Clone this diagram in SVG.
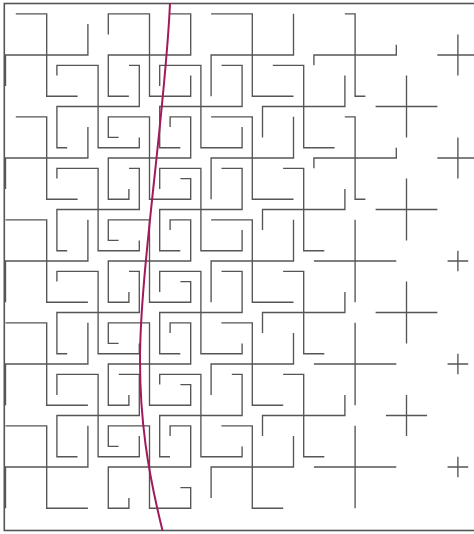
<svg xmlns="http://www.w3.org/2000/svg" width="474" height="534" viewBox="0 0 474 534">
<style>
.pw{fill:none;stroke:#555555;stroke-width:1.35}
.frame{fill:none;stroke:#555555;stroke-width:1.6}
.curve{fill:none;stroke:#a3195b;stroke-width:2}
</style>
<defs>
<path id="p1" d="M0 -10.3V10.3M-10.3 0H10.3"/>
<path id="p2" d="M0 -20.6V20.6M-20.6 0H20.6"/>
<path id="p3" d="M0 -30.9V30.9M-30.9 0H30.9"/>
<path id="p4" d="M0 -41.2V41.2M-41.2 0H41.2"/>
<path id="p5" d="M-10.3 -41.2H0V41.2H10.3M41.2 -10.3V0H-41.2V10.3"/>
<path id="p6" d="M-20.6 -41.2H0V41.2H20.6M41.2 -20.6V0H-41.2V20.6"/>
<path id="p7" d="M-30.9 -41.2H0V41.2H30.9M41.2 -30.9V0H-41.2V30.9"/>
<path id="p8" d="M-41.2 -41.2H0V41.2H41.2M41.2 -41.2V0H-41.2V41.2"/>
<path id="p9" d="M-41.2 -30.9V-41.2H0V41.2H41.2V30.9M30.9 -41.2H41.2V0H-41.2V41.2H-30.9"/>
<path id="p10" d="M-41.2 -20.6V-41.2H0V41.2H41.2V20.6M20.6 -41.2H41.2V0H-41.2V41.2H-20.6"/>
<path id="p11" d="M-30.9 -20.6H-41.2V-41.2H0V41.2H41.2V20.6H30.9M20.6 -30.9V-41.2H41.2V0H-41.2V41.2H-20.6V30.9"/>
<path id="p10b" d="M-41.2 -20.6V-41.2H0V41.2H41.2V30.9M20.6 -41.2H41.2V0H-41.2V41.2H-20.6"/>
</defs>
<g id="frame"><rect class="frame" x="4.3" y="3.5" width="500" height="527"/></g>
<g id="pinwheels" class="pw">
<use href="#p7" x="46.7" y="55"/>
<use href="#p10" x="149.5" y="55"/>
<use href="#p8" x="252.3" y="55"/>
<use href="#p5" x="355.1" y="55"/>
<use href="#p2" x="457.9" y="55"/>
<use href="#p9" x="98.1" y="106.5"/>
<use href="#p10" x="200.9" y="106.5"/>
<use href="#p7" x="303.7" y="106.5"/>
<use href="#p3" x="406.5" y="106.5"/>
<use href="#p7" x="46.7" y="158"/>
<use href="#p11" x="149.5" y="158"/>
<use href="#p8" x="252.3" y="158"/>
<use href="#p5" x="355.1" y="158"/>
<use href="#p2" x="457.9" y="158"/>
<use href="#p9" x="98.1" y="209.5"/>
<use href="#p10" x="200.9" y="209.5"/>
<use href="#p6" x="303.7" y="209.5"/>
<use href="#p3" x="406.5" y="209.5"/>
<use href="#p8" x="46.7" y="261"/>
<use href="#p11" x="149.5" y="261"/>
<use href="#p8" x="252.3" y="261"/>
<use href="#p4" x="355.1" y="261"/>
<use href="#p1" x="457.9" y="261"/>
<use href="#p9" x="98.1" y="312.5"/>
<use href="#p10b" x="200.9" y="312.5"/>
<use href="#p6" x="303.7" y="312.5"/>
<use href="#p3" x="406.5" y="312.5"/>
<use href="#p8" x="46.7" y="364"/>
<use href="#p11" x="149.5" y="364"/>
<use href="#p7" x="252.3" y="364"/>
<use href="#p4" x="355.1" y="364"/>
<use href="#p1" x="457.9" y="364"/>
<use href="#p10" x="98.1" y="415.5"/>
<use href="#p9" x="200.9" y="415.5"/>
<use href="#p6" x="303.7" y="415.5"/>
<use href="#p2" x="406.5" y="415.5"/>
<use href="#p8" x="46.7" y="467"/>
<use href="#p11" x="149.5" y="467"/>
<use href="#p7" x="252.3" y="467"/>
<use href="#p4" x="355.1" y="467"/>
<use href="#p1" x="457.9" y="467"/>
</g>
<g id="connectors">
<path class="curve" d="M170 3C165.5 110 140 270 140 360C140 420 147.5 470 162.5 530.5"/>
</g>
</svg>
